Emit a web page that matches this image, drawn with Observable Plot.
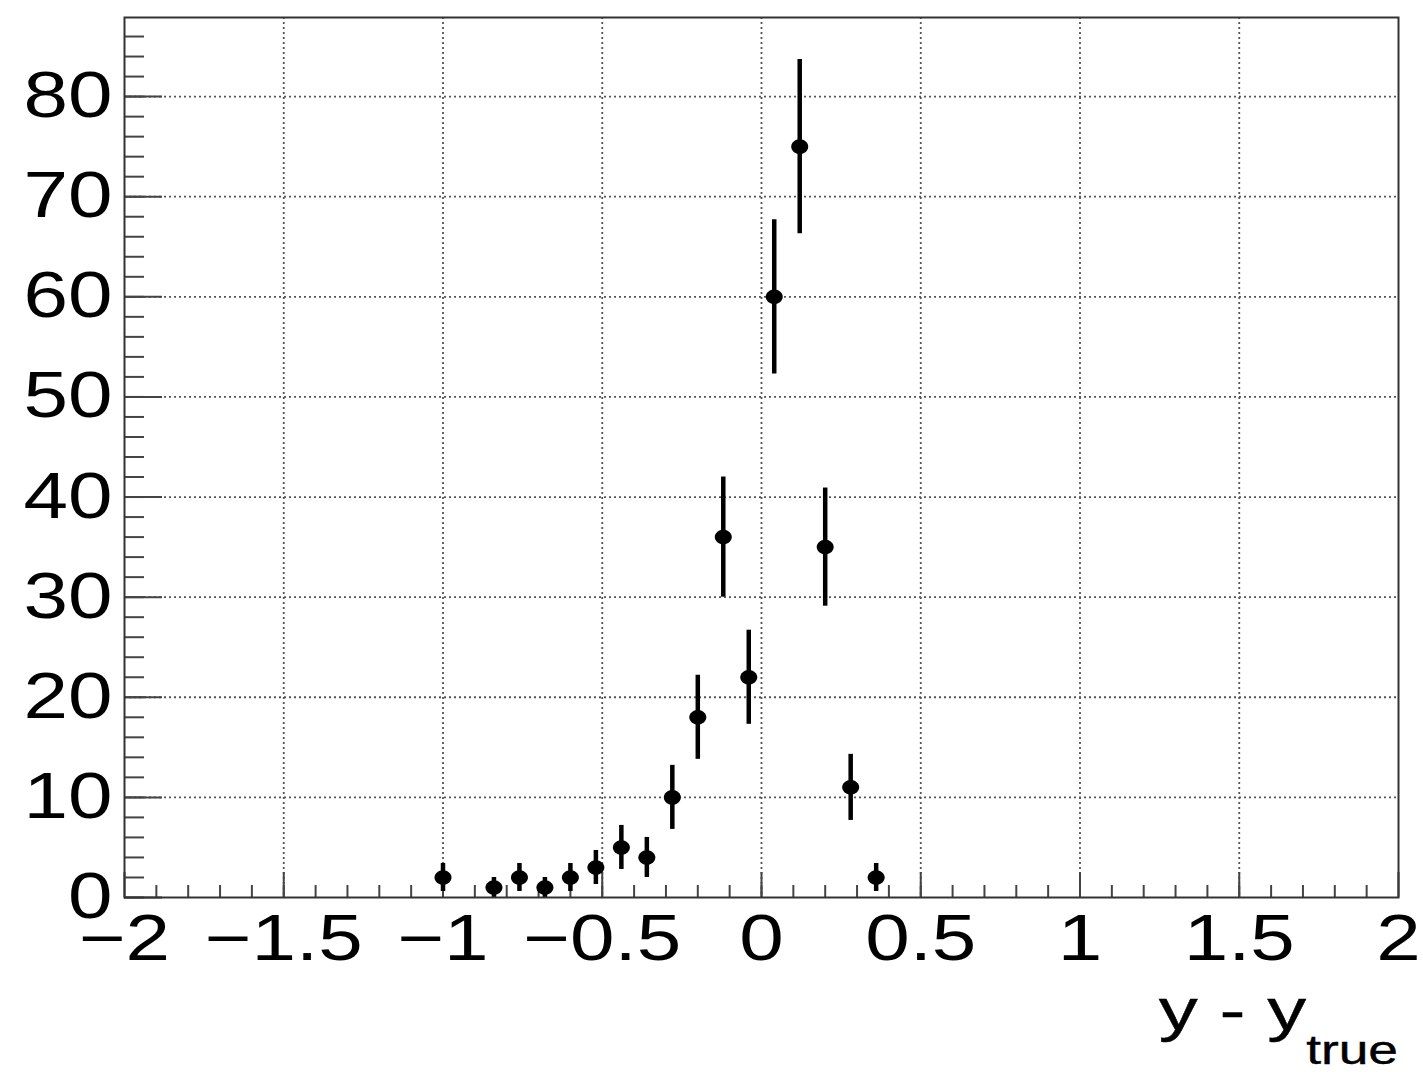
<!DOCTYPE html>
<html>
<head>
<meta charset="utf-8">
<script src="https://cdn.jsdelivr.net/npm/d3@7"></script>
<script src="https://cdn.jsdelivr.net/npm/@observablehq/plot@0.6"></script>
<style>
  body { margin: 0; background: #fff; }
  svg { display: block; }
</style>
</head>
<body>
<div id="chart"></div>
<script>
// bin centres (y - y_true)
const binCenters = [-1.0, -0.84, -0.76, -0.68, -0.6, -0.52, -0.44, -0.36, -0.28, -0.2, -0.12, -0.04, 0.04, 0.12, 0.2, 0.28, 0.36];
// entries per bin
const counts = [2, 1, 2, 1, 2, 3, 5, 4, 10, 18, 36, 22, 60, 75, 35, 11, 2];
// error bar half-lengths
const errors = [1.4, 1.0, 1.4, 1.0, 1.4, 1.7, 2.2, 2.0, 3.2, 4.2, 6.0, 4.7, 7.7, 8.7, 5.9, 3.3, 1.4];

const xMajor = [-2, -1.5, -1, -0.5, 0, 0.5, 1, 1.5, 2];
const xMinor = d3.range(-19, 20).map(i => i / 10);
const yMajor = [0, 10, 20, 30, 40, 50, 60, 70, 80];
const yMinor = d3.range(0, 88, 2);
const xTitle = "y - y";
const xTitleSub = "true";

const data = binCenters.map((x, i) => ({x, y: counts[i], e: errors[i]}));

const ellipse = {
  draw(ctx) {
    const rx = 8.5, ry = 7.3, k = 0.5523;
    ctx.moveTo(rx, 0);
    ctx.bezierCurveTo(rx, ry * k, rx * k, ry, 0, ry);
    ctx.bezierCurveTo(-rx * k, ry, -rx, ry * k, -rx, 0);
    ctx.bezierCurveTo(-rx, -ry * k, -rx * k, -ry, 0, -ry);
    ctx.bezierCurveTo(rx * k, -ry, rx, -ry * k, rx, 0);
    ctx.closePath();
  }
};

const fmt = d => (d < 0 ? "\u2212" + Math.abs(d) : String(d));
const gridStyle = {stroke: "#555", strokeOpacity: 1, strokeWidth: 1.8, strokeDasharray: "2,3"};
const FONT = "'Liberation Sans', Arial, Helvetica, sans-serif";

const plot = Plot.plot({
  width: 1423,
  height: 1072,
  marginLeft: 124,
  marginRight: 25,
  marginTop: 17,
  marginBottom: 175,
  style: {fontFamily: FONT, background: "#fff", color: "#000"},
  x: {domain: [-2, 2]},
  y: {domain: [0, 87.9]},
  marks: [
    Plot.gridX(xMajor.slice(1, -1), gridStyle),
    Plot.gridY(yMajor.slice(1), gridStyle),
    Plot.axisX(xMinor, {tickSize: -12, text: null, stroke: "#444", strokeWidth: 2, label: null}),
    Plot.axisX(xMajor, {tickSize: -25, text: null, stroke: "#444", strokeWidth: 2, label: null}),
    Plot.axisX(xMajor, {tickSize: 0, tickPadding: 17, fontSize: 64, tickFormat: fmt, label: null, fill: "#000", stroke: "#000", strokeWidth: 0.5}),
    Plot.axisY(yMinor, {tickSize: -20, text: null, stroke: "#444", strokeWidth: 2, label: null}),
    Plot.axisY(yMajor, {tickSize: -38, text: null, stroke: "#444", strokeWidth: 2, label: null}),
    Plot.axisY(yMajor, {tickSize: 0, tickPadding: 12, fontSize: 64, tickFormat: fmt, label: null, fill: "#000", stroke: "#000", strokeWidth: 0.5}),
    Plot.ruleX(data, {x: "x", y1: d => Math.max(0, d.y - d.e), y2: d => d.y + d.e, stroke: "#000", strokeWidth: 4.5}),
    Plot.dot(data, {x: "x", y: "y", symbol: ellipse, r: 7, fill: "#000", stroke: "none"}),
    Plot.frame({stroke: "#333", strokeWidth: 2})
  ]
});

document.getElementById("chart").appendChild(plot);

const svg = d3.select(plot);

// the reference is horizontally stretched: widen every tick label about its anchor
function stretch(sel, sx) {
  sel.each(function () {
    const bb = this.getBBox();
    const anchor = getComputedStyle(this).textAnchor || this.getAttribute("text-anchor");
    const px = anchor === "end" ? bb.x + bb.width : anchor === "start" ? bb.x : bb.x + bb.width / 2;
    const t = this.getAttribute("transform") || "";
    this.setAttribute("transform", `${t} translate(${px},0) scale(${sx},1) translate(${-px},0)`);
  });
}
stretch(svg.selectAll("text"), 1.25);

const title = svg.append("text")
  .attr("x", 1398)
  .attr("y", 1030)
  .attr("text-anchor", "end")
  .attr("font-family", FONT)
  .attr("font-size", 60)
  .attr("fill", "#000")
  .attr("stroke", "#000")
  .attr("stroke-width", 0.4);
title.append("tspan").text(xTitle);
title.append("tspan").attr("font-size", 41).attr("dy", 34).text(xTitleSub);
stretch(title, 1.3);
</script>
</body>
</html>
